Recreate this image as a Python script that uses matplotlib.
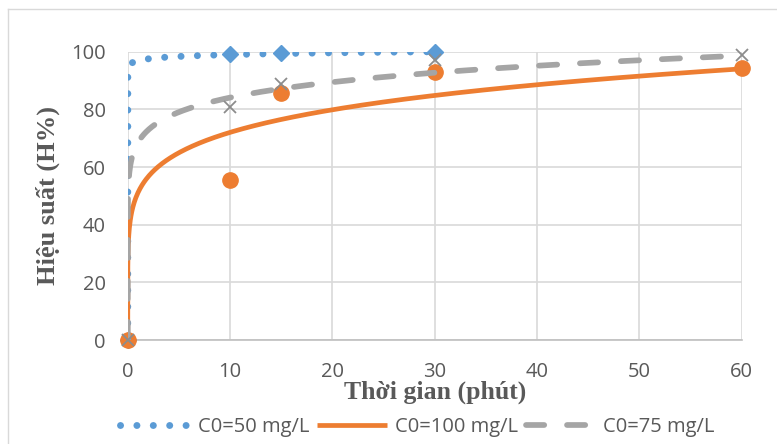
import numpy as np
import matplotlib
matplotlib.use("Agg")
import matplotlib.pyplot as plt
from matplotlib.lines import Line2D

# measured points (time in minutes, efficiency %)
t50 = [0, 10, 15, 30]
h50 = [0, 99.2, 99.7, 100]
t100 = [0, 10, 15, 30, 60]
h100 = [0, 55.5, 85.6, 93.1, 94.4]
t75 = [0, 10, 15, 30, 60]
h75 = [0, 80.8, 88.8, 97.1, 98.9]

labels = ["C0=50 mg/L", "C0=100 mg/L", "C0=75 mg/L"]

# power trendlines y = c * x^p, coefficients
trend_c = [96.9, 51.1, 68.5]
trend_p = [0.0092, 0.149, 0.089]
trend_xmax = [30, 60, 60]

blue, orange, gray = "#5B9BD5", "#ED7D31", "#A5A5A5"
txt = "#595959"

fig = plt.figure(figsize=(7.77, 4.44), dpi=100)
ax = fig.add_axes([0.1644, 0.2342, 0.7902, 0.6494])

# markers
ax.plot(t50, h50, ls="none", marker="D", ms=8.5, color=blue, zorder=3, clip_on=False)
ax.plot(t100, h100, ls="none", marker="o", ms=11, color=orange, zorder=3, clip_on=False)
ax.plot(t75, h75, ls="none", marker="x", ms=9, mew=1.3, color="#8C8C8C", zorder=5, clip_on=False)

# trendlines
styles = [
    dict(color=blue, lw=5.0, ls=(0, (0.01, 2.35)), dash_capstyle="round"),
    dict(color=orange, lw=3.4, ls="-", solid_capstyle="butt"),
    dict(color=gray, lw=4.1, ls=(0, (3.2, 4.0)), dash_capstyle="round"),
]
handles = []
for k in range(3):
    x = np.concatenate([np.logspace(-300, 0, 3000), np.linspace(1, trend_xmax[k], 600)])
    y = trend_c[k] * x ** trend_p[k]
    ax.plot(x, y, zorder=4, **styles[k])
    handles.append(Line2D([], [], **styles[k]))

ax.set_xlim(0, 60)
ax.set_ylim(0, 100)
ax.set_xticks(range(0, 61, 10))
ax.set_yticks(range(0, 101, 20))
ax.grid(True, color="#D9D9D9", lw=1.2)
ax.set_axisbelow(True)
for s in ["top", "right", "left"]:
    ax.spines[s].set_visible(False)
ax.spines["bottom"].set_color("#BFBFBF")
ax.spines["bottom"].set_linewidth(1.2)
ax.tick_params(length=0, labelsize=14.5, labelcolor=txt)
ax.tick_params(axis="x", pad=16)
ax.tick_params(axis="y", pad=16)
for lab in ax.get_xticklabels() + ax.get_yticklabels():
    lab.set_family("Open Sans")

ax.set_xlabel("Thời gian (phút)", family="Liberation Serif", weight="bold",
              fontsize=18.5, color=txt, labelpad=-1)
ax.set_ylabel("Hiệu suất (H%)", family="Liberation Serif", weight="bold",
              fontsize=19, color=txt, labelpad=8)

leg = fig.legend(handles, labels, loc="center", bbox_to_anchor=(0.537, 0.038),
                 ncol=3, frameon=False, handlelength=3.5, columnspacing=0.4,
                 handletextpad=0.35, prop={"family": "Open Sans", "size": 14.5})
for t in leg.get_texts():
    t.set_color(txt)

# chart border (only top and left visible)
fig.add_artist(Line2D([8 / 777, 8 / 777], [0, 1 - 9 / 444], transform=fig.transFigure,
                      color="#D9D9D9", lw=1))
fig.add_artist(Line2D([8 / 777, 1], [1 - 9 / 444, 1 - 9 / 444], transform=fig.transFigure,
                      color="#D9D9D9", lw=1))

fig.savefig("out.png", dpi=100)
